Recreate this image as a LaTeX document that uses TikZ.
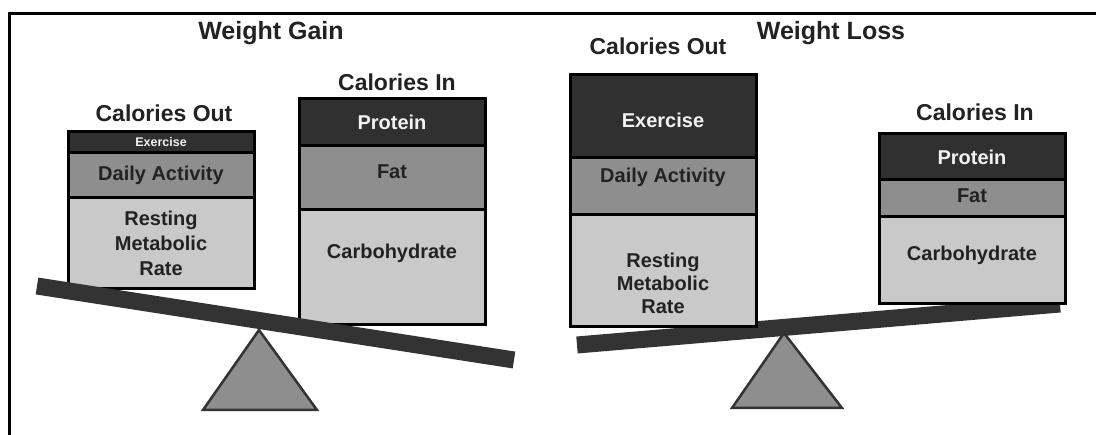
\documentclass[tikz,border=0pt]{standalone}
\usepackage{fontspec}
\setmainfont{Liberation Sans}
\usepackage{xcolor}
\usetikzlibrary{calc}
\NewDocumentCommand\lift{mm}{\raisebox{#1}[\height][\depth]{#2}}
\definecolor{boxdark}{HTML}{303030}
\definecolor{boxmid}{HTML}{8E8E8E}
\definecolor{boxlight}{HTML}{C9C9C9}
\definecolor{beamgray}{HTML}{333333}
\definecolor{ink}{HTML}{222222}
\definecolor{boxtext}{HTML}{F2F2F2}

\begin{document}
\begin{tikzpicture}[x=1pt,y=-1pt,
    seg/.style={draw=black,line width=3pt,minimum width=186pt,inner sep=0pt,
      align=center,font=\fontsize{20}{24}\selectfont\bfseries},
    darkbox/.style={seg,fill=boxdark,text=boxtext},
    midbox/.style={seg,fill=boxmid,text=ink},
    lightbox/.style={seg,fill=boxlight,text=ink},
    scenetitle/.style={text=ink,text height=.72em,text depth=0pt,
      font=\fontsize{25}{28}\selectfont\bfseries},
    sidelabel/.style={text=ink,text height=.72em,text depth=0pt,
      font=\fontsize{23}{26}\selectfont\bfseries},
    beam/.style={draw=beamgray,line width=17pt},
    pivot/.style={draw=beamgray,line width=2.5pt,fill=boxmid}]
            \useasboundingbox[fill=white] (0,0) rectangle (1096,435);
            \draw[line width=3pt] (9.5,435) |- (1096,13.5);

            % weight gain
            \coordinate (gainleft) at (37,286);
            \coordinate (gainright) at (514,360);
            \coordinate (gainapex) at (259,330);
            \node[scenetitle] (gaintitle) at (271,36) {Weight Gain};
            \node[sidelabel] (gainout) at (164,118) {Calories Out};
            \node[sidelabel] (gainin) at (397,87) {Calories In};
            \node[darkbox,minimum height=21pt,font=\fontsize{12.5}{14}\selectfont\bfseries] (gainexercise) at (161,142.5) {Exercise};
            \node[midbox,minimum height=45pt] (gaindaily) at (161,175.5) {Daily Activity};
            \node[lightbox,minimum height=91pt,font=\fontsize{20}{25}\selectfont\bfseries] (gainresting) at (161,243.5) {Resting\\Metabolic\\Rate};
            \node[darkbox,minimum height=47pt] (gainprotein) at (392,122.5) {Protein};
            \node[midbox,minimum height=64pt] (gainfat) at (392,178) {\lift{6pt}{Fat}};
            \node[lightbox,minimum height=115pt] (gaincarb) at (392,267.5) {\lift{14pt}{Carbohydrate}};
            \draw[pivot] (gainapex) -- (203,410) -- (317,410) -- cycle;
            \draw[beam] (gainleft) -- (gainright);

            % weight loss
            \coordinate (lossleft) at (577,345);
            \coordinate (lossright) at (1060,304);
            \coordinate (lossapex) at (784,333);
            \node[scenetitle] (losstitle) at (831,36) {Weight Loss};
            \node[sidelabel] (lossout) at (658,51) {Calories Out};
            \node[sidelabel] (lossin) at (975,117) {Calories In};
            \draw[pivot] (lossapex) -- (732,408) -- (842,408) -- cycle;
            \draw[beam] (lossleft) -- (lossright);
            \node[darkbox,minimum height=83pt] (lossexercise) at (663,116.5) {\lift{-4pt}{Exercise}};
            \node[midbox,minimum height=57pt] (lossdaily) at (663,186.5) {\lift{9pt}{Daily Activity}};
            \node[lightbox,minimum height=112pt,font=\fontsize{20}{23}\selectfont\bfseries] (lossresting) at (663,271) {\lift{-12pt}{Resting}\\\lift{-12pt}{Metabolic}\\\lift{-12pt}{Rate}};
            \node[darkbox,minimum height=46pt] (lossprotein) at (972,157) {Protein};
            \node[midbox,minimum height=37pt] (lossfat) at (972,198.5) {\lift{3pt}{Fat}};
            \node[lightbox,minimum height=87pt] (losscarb) at (972,260.5) {\lift{5pt}{Carbohydrate}};
        \end{tikzpicture}
\end{document}
